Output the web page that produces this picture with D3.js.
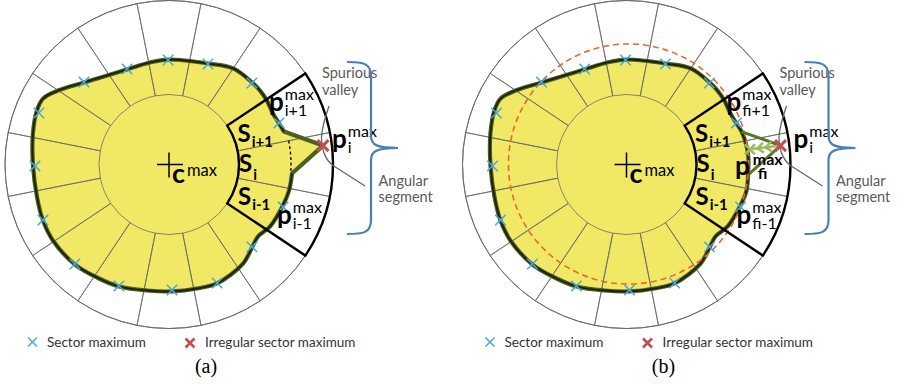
<!DOCTYPE html>
<html>
<head>
<meta charset="utf-8">
<script src="https://cdn.jsdelivr.net/npm/d3@7"></script>
<style>
  html, body { margin: 0; padding: 0; background: #fff; }
  svg { display: block; }
</style>
</head>
<body>
<svg id="fig" width="897" height="384"></svg>
<script>
// ---------------- data ----------------
// Angles are in degrees, measured clockwise from the +x axis; radii are in
// percent of the outer ring radius.
const ringInner = 42.7;
const ringOuter = 100;
const sectorAngles = [0, 22.5, 45, 67.5, 90, 112.5, 135, 157.5, 180, 202.5, 225, 247.5, 270, 292.5, 315, 337.5];
const sectorHalfWidth = 11.25;

// Sector maxima (one per sector, sector 0 is the irregular one)
const maxAngle  = [-7.0, 20.4, 44.8, 67.9, 88.6, 112.4, 133.4, 156.2, 179.4, 201.6, 224.1, 246.3, 269.5, 291.2, 315.5, 339.3];
const maxRadius = [94.6, 74.2, 71.3, 78.0, 76.5, 80.1, 83.5, 84.0, 81.7, 85.3, 72.2, 63.6, 63.7, 65.7, 70.9, 71.7];
const irregularIndex = 0;
const correctedRadius = 75.8;

// Smooth part of the contour, shared by both panels
const contourAngle  = [12.2, 19.8, 31.5, 39, 45, 53.2, 68, 77.3, 88.6, 99.9, 112.3, 122.5, 133.2, 146.8, 156, 166, 179.2, 192.8, 202.2, 207.6, 213.7, 224, 246.1, 259.4, 269.5, 291.1, 303.7, 315.3, 320.9, 326.9, 333.9, 339.6];
const contourRadius = [74.9, 73.8, 72.3, 69.8, 71.6, 75.4, 78.2, 77.5, 77.4, 78.0, 80.4, 81.7, 83.7, 84.6, 84.1, 82.9, 82.9, 85.1, 87.0, 86.7, 81.3, 72.0, 63.4, 63.3, 64.0, 66.0, 70.4, 71.2, 71.5, 71.3, 70.6, 71.6];

// Spike in the irregular sector: upper base, tip, lower base
const spikeAngle  = [344, -7.0, 4.2];
const spikeRadius = [72.9, 94.6, 75.2];

// Contour after correcting the irregular sector
const refinedAngle  = [344.1, 351.6, 356.9, 2.6];
const refinedRadius = [73.0, 74.1, 74.4, 74.3];

// Reference circle (panel b)
const refCircleRadius = 73.2;

const legendLabels = ["Sector maximum", "Irregular sector maximum"];
const panelLabels = ["(a)", "(b)"];

// ---------------- setup ----------------
const svg = d3.select("#fig");
const R = d3.scaleLinear().domain([0, 100]).range([0, 164]);
const toRad = d => d * Math.PI / 180;
const ang = d => toRad(d + 90);               // screen angle -> d3 radial angle

const colors = {
  fill: "#f1e966",
  grid: "#6a6a6a",
  contour: "#4d5f22",
  core: "#1c2108",
  blue: "#4aa6dc",
  red: "#c0504d",
  light: "#9bbb59",
  spike: "#5a7430",
  brace: "#4a7ebb",
  note: "#595959",
  orange: "#f0642c"
};

const panels = [
  { cx: 169,   cy: 164.5, refined: false, label: panelLabels[0] },
  { cx: 626.5, cy: 164.5, refined: true,  label: panelLabels[1] }
];

const maxima = maxAngle.map((a, i) => ({ a, r: maxRadius[i], i }));
const contour = contourAngle.map((a, i) => [a, contourRadius[i]]);
const spike = spikeAngle.map((a, i) => [a, spikeRadius[i]]);
const refined = refinedAngle.map((a, i) => [a, refinedRadius[i]]);

const radial = d3.lineRadial().angle(d => ang(d[0])).radius(d => R(d[1]));
const xy = (a, r) => d3.pointRadial(ang(a), R(r));

function crossPath(s) {
  return `M${-s},${-s}L${s},${s}M${-s},${s}L${s},${-s}`;
}

function scripted(g, x, y, base, sup, sub, o) {
  const t = g.append("text").attr("x", x).attr("y", y)
    .attr("font-family", "Lato, sans-serif").attr("font-weight", 700)
    .attr("font-size", o.size).attr("fill", "#000").text(base);
  const w = t.node().getComputedTextLength();
  if (sup) g.append("text").attr("x", x + w + (o.gap || 1)).attr("y", y + o.supDy)
    .attr("font-family", "Lato, sans-serif").attr("font-weight", o.supBold ? 700 : 400)
    .attr("font-size", o.supSize).attr("fill", "#000").text(sup);
  if (sub) g.append("text").attr("x", x + w + (o.gap || 1) + (o.subDx || 0)).attr("y", y + o.subDy)
    .attr("font-family", "Lato, sans-serif").attr("font-weight", o.subBold ? 700 : 400)
    .attr("font-size", o.subSize).attr("fill", "#000").text(sub);
}

function brace(g, xs, yTop, yBot, yMid) {
  const x0 = xs - 24, tip = xs + 27;
  const p = `M${x0},${yTop}C${xs - 8},${yTop} ${xs},${yTop + 1} ${xs},${yTop + 14}` +
    `L${xs},${yMid - 12}C${xs},${yMid - 3} ${xs + 6},${yMid} ${tip},${yMid}` +
    `C${xs + 6},${yMid} ${xs},${yMid + 3} ${xs},${yMid + 12}` +
    `L${xs},${yBot - 14}C${xs},${yBot - 1} ${xs - 8},${yBot} ${x0},${yBot}`;
  g.append("path").attr("d", p).attr("fill", "none")
    .attr("stroke", colors.brace).attr("stroke-width", 2.2);
}

panels.forEach((P, pi) => {
  const g = svg.append("g").attr("transform", `translate(${P.cx},${P.cy})`);

  // blob outline
  let blobPath, smoothPath;
  if (!P.refined) {
    const pts = [spike[2], ...contour, spike[0]];
    smoothPath = radial.curve(d3.curveCatmullRom.alpha(0.5))(pts);
    const tip = xy(spike[1][0], spike[1][1]);
    blobPath = smoothPath + `L${tip[0]},${tip[1]}Z`;
  } else {
    const pts = [...refined, ...contour];
    smoothPath = radial.curve(d3.curveCatmullRomClosed.alpha(0.5))(pts);
    blobPath = smoothPath;
  }

  // outer disc
  g.append("circle").attr("r", R(ringOuter)).attr("fill", "#fff")
    .attr("stroke", colors.grid).attr("stroke-width", 1);

  // yellow region
  g.append("path").attr("d", blobPath).attr("fill", colors.fill).attr("stroke", "none");

  // sector grid
  const cell = d3.arc().innerRadius(R(ringInner)).outerRadius(R(ringOuter));
  g.selectAll("path.cell").data(sectorAngles).join("path").attr("class", "cell")
    .attr("d", a => cell({ startAngle: ang(a - sectorHalfWidth), endAngle: ang(a + sectorHalfWidth) }))
    .attr("fill", "none").attr("stroke", colors.grid).attr("stroke-width", 0.8);

  // dashed expected boundary in the irregular sector (panel a)
  if (!P.refined) {
    const pth = d3.path();
    pth.arc(0, 0, R(74.4), toRad(-sectorHalfWidth), toRad(4.2));
    g.append("path").attr("d", pth.toString()).attr("fill", "none")
      .attr("stroke", "#000").attr("stroke-width", 1.3).attr("stroke-dasharray", "3,2.5");
  }

  // contour
  g.append("path").attr("d", blobPath).attr("fill", "none")
    .attr("stroke", colors.contour).attr("stroke-width", 4.2).attr("stroke-linejoin", "round");
  g.append("path").attr("d", smoothPath).attr("fill", "none")
    .attr("stroke", colors.core).attr("stroke-width", 1.8).attr("stroke-linejoin", "round");

  if (P.refined) {
    // reference circle
    g.append("circle").attr("cx", 2).attr("cy", -0.5).attr("r", R(refCircleRadius))
      .attr("fill", "none").attr("stroke", colors.orange).attr("stroke-width", 1.6)
      .attr("stroke-dasharray", "6,4");
    // original spike kept as lines
    g.append("path").attr("d", radial.curve(d3.curveLinear)(spike)).attr("fill", "none")
      .attr("stroke", colors.spike).attr("stroke-width", 3).attr("stroke-linejoin", "round");
  }

  // angular segment (three sectors)
  const seg = d3.arc().innerRadius(R(ringInner)).outerRadius(R(ringOuter))
    .startAngle(ang(-3 * sectorHalfWidth)).endAngle(ang(3 * sectorHalfWidth));
  g.append("path").attr("d", seg()).attr("fill", "none")
    .attr("stroke", "#000").attr("stroke-width", 2.4).attr("stroke-linejoin", "miter");

  // pointer from "Spurious valley"
  const pointer = [[160, -58.5], [154.5, -40], [152.5, -27], [154.5, -13], [159, -4], [164, 1]];
  g.append("path")
    .attr("d", d3.line().curve(d3.curveCatmullRom)(pointer) + `L${196},${21.5}`)
    .attr("fill", "none").attr("stroke", "#666").attr("stroke-width", 1.3);

  // correction arrow (panel b)
  const irr = maxima[irregularIndex];
  if (P.refined) {
    const a0 = xy(irr.a, irr.r - 2), a1 = xy(irr.a, correctedRadius + 1.5);
    g.append("line").attr("x1", a0[0]).attr("y1", a0[1]).attr("x2", a1[0]).attr("y2", a1[1])
      .attr("stroke", colors.light).attr("stroke-width", 2.5);
    const u = [Math.cos(toRad(irr.a)), Math.sin(toRad(irr.a))];
    const n = [-u[1], u[0]];
    [80.5, 85.5].forEach(rv => {
      const p = xy(irr.a, rv);
      const b1 = [p[0] + 6 * u[0] + 5 * n[0], p[1] + 6 * u[1] + 5 * n[1]];
      const b2 = [p[0] + 6 * u[0] - 5 * n[0], p[1] + 6 * u[1] - 5 * n[1]];
      g.append("path").attr("d", `M${b1[0]},${b1[1]}L${p[0]},${p[1]}L${b2[0]},${b2[1]}`)
        .attr("fill", "none").attr("stroke", colors.light).attr("stroke-width", 2.5)
        .attr("stroke-linejoin", "miter");
    });
    const pc = xy(irr.a, correctedRadius);
    g.append("path").attr("transform", `translate(${pc[0]},${pc[1]})`)
      .attr("d", crossPath(5)).attr("stroke", colors.light).attr("stroke-width", 2.6);
  }

  // sector maxima
  g.selectAll("path.mx").data(maxima.filter(d => d.i !== irregularIndex)).join("path")
    .attr("class", "mx")
    .attr("transform", d => { const p = xy(d.a, d.r); return `translate(${p[0]},${p[1]})`; })
    .attr("d", crossPath(5.2)).attr("stroke", colors.blue).attr("stroke-width", 1.5);
  {
    const p = xy(irr.a, irr.r);
    g.append("path").attr("transform", `translate(${p[0]},${p[1]})`)
      .attr("d", crossPath(5.5)).attr("stroke", colors.red).attr("stroke-width", 3);
  }

  // center mark
  g.append("path").attr("d", "M-12,0L14,0M0,-12L0,13").attr("stroke", "#000").attr("stroke-width", 1.5);

  // labels
  const big = { size: 26, supSize: 16, subSize: 16, supDy: -11, subDy: 5 };
  const sLab = { size: 24, subSize: 15, subBold: true, subDy: 5, gap: 0 };
  scripted(g, 3, 18.5, "c", "max", null, { size: 27, supSize: 16.5, supDy: -7, gap: 2 });
  scripted(g, 68.5, -23, "S", null, "i+1", sLab);
  scripted(g, 70, 7, "S", null, "i", Object.assign({}, sLab, { subDy: 8 }));
  scripted(g, 69, 40.5, "S", null, "i-1", sLab);
  const f = P.refined ? "f" : "";
  scripted(g, 100, -53.5, "p", "max", f + "i+1", big);
  scripted(g, P.refined ? 167 : 163, -16.5, "p", "max", "i", big);
  scripted(g, P.refined ? 110 : 108, 59.5, "p", "max", f + "i-1", big);
  if (P.refined) {
    scripted(g, 108.5, 10.5, "p", "max", "fi",
      { size: 26, supSize: 16, subSize: 16, supBold: true, subBold: true, supDy: -10, subDy: 4, gap: 3, subDx: 5 });
  }

  const note = (x, y, t) => g.append("text").attr("x", x).attr("y", y)
    .attr("font-family", "Lato, sans-serif").attr("font-size", 14.5)
    .attr("fill", colors.note).text(t);
  note(153, -87, "Spurious");
  note(153, -70, "valley");
  note(209.5, 21.5, "Angular");
  note(209.5, 37, "segment");

  brace(g, 202, -102.5, 69.5, -16.5);

  // legend
  const lg = svg.append("g").attr("transform", `translate(${P.cx - 169},0)`);
  lg.append("path").attr("transform", "translate(32.5,342)").attr("d", crossPath(4.5))
    .attr("stroke", colors.blue).attr("stroke-width", 1.5);
  lg.append("text").attr("x", 47).attr("y", 346.5).attr("font-family", "Lato, sans-serif")
    .attr("font-size", 13.5).attr("fill", "#333").text(legendLabels[0]);
  lg.append("path").attr("transform", "translate(190,343)").attr("d", crossPath(4.5))
    .attr("stroke", colors.red).attr("stroke-width", 2.6);
  lg.append("text").attr("x", 205).attr("y", 346.5).attr("font-family", "Lato, sans-serif")
    .attr("font-size", 13.5).attr("fill", "#333").text(legendLabels[1]);
  lg.append("text").attr("x", 206).attr("y", 373).attr("text-anchor", "middle")
    .attr("font-family", "'Liberation Serif', 'DejaVu Serif', serif").attr("font-size", 20)
    .attr("fill", "#000").text(P.label);
});
</script>
</body>
</html>
